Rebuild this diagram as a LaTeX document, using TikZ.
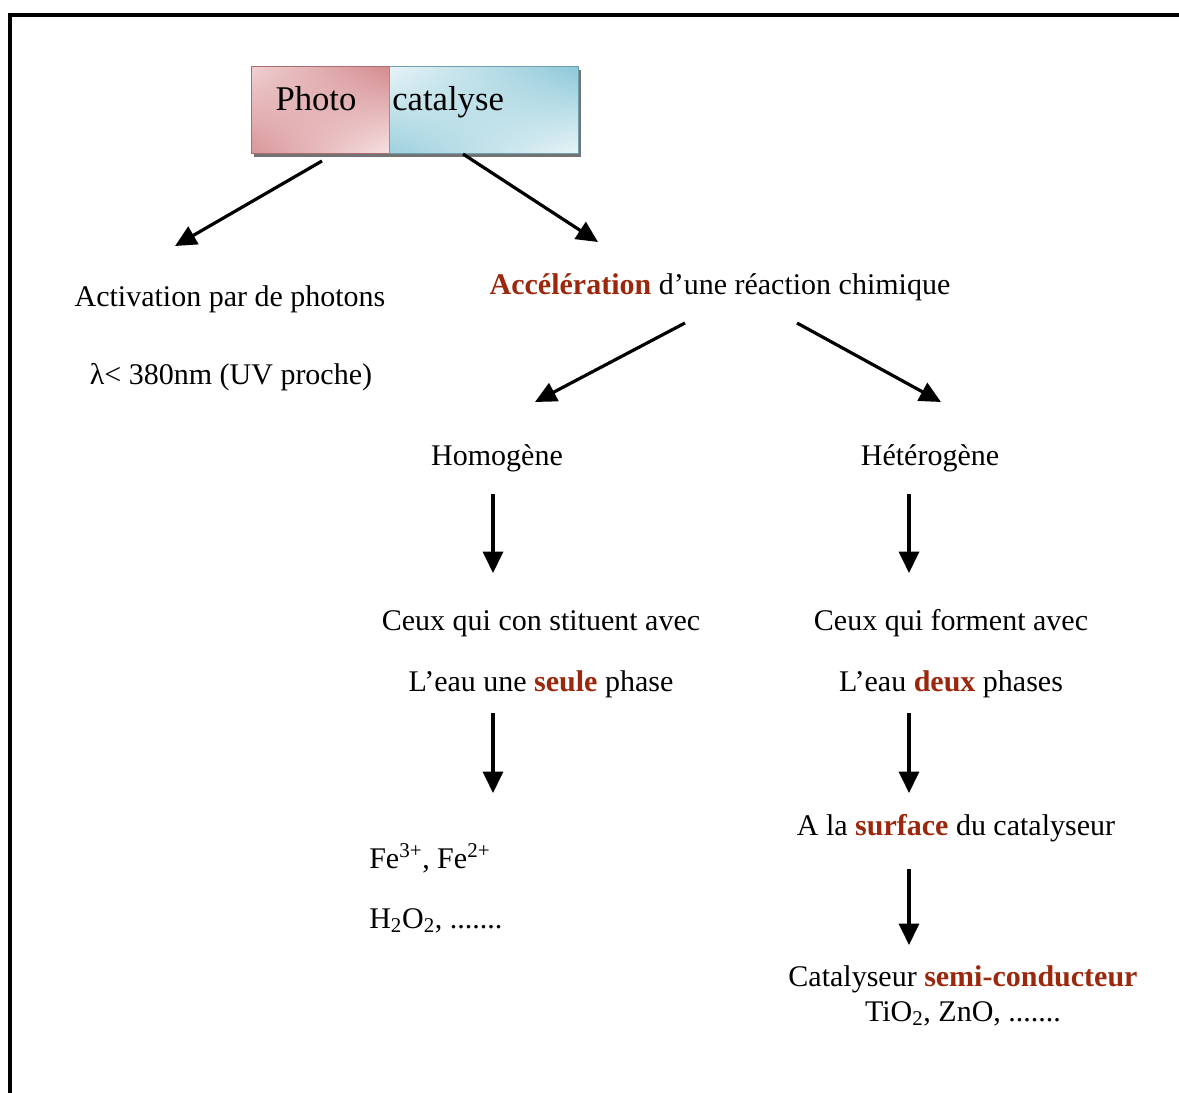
\documentclass[tikz,border=0pt]{standalone}
\usepackage{fontspec}
\setmainfont{Liberation Serif}
\usetikzlibrary{arrows.meta,shadings}
\definecolor{dred}{RGB}{155,40,12}
\definecolor{pinkdark}{RGB}{212,138,142}
\definecolor{pinklight}{RGB}{246,226,227}
\definecolor{bluedark}{RGB}{140,200,216}
\definecolor{bluelight}{RGB}{232,244,247}
\newcommand{\redbf}[1]{\textcolor{dred}{\textbf{#1}}}
\tikzset{
  lbl/.style={anchor=base, inner sep=0pt, font=\fontsize{22.5}{27}\selectfont},
  big/.style={anchor=base, inner sep=0pt, font=\fontsize{26}{31}\selectfont},
  arr/.style={line width=2.4pt, -{Triangle[length=16pt,width=15pt]}},
  frame/.style={line width=2.4pt},
}
\begin{document}
\begin{tikzpicture}[x=0.75pt,y=-0.75pt]
\useasboundingbox (0,0) rectangle (1179,1093);
% frame
\draw[frame] (10,1110) -- (10,15) -- (1200,15);
% title box
\fill[black!55] (254,70) rectangle (581,157);
\shade[upper left=pinklight!80!pinkdark, upper right=pinkdark, lower left=pinkdark!90, lower right=pinklight] (251,66) rectangle (389,153);
\shade[upper left=bluelight, upper right=bluedark, lower left=bluedark!85, lower right=bluelight] (389,66) rectangle (578,153);
\draw[pinkdark!80!black, line width=0.6pt] (251,66) rectangle (389,153);
\draw[bluedark!80!black, line width=0.6pt] (389,66) rectangle (578,153);
\node[big] (photo) at (316,110) {Photo};
\node[big, anchor=base west] (cata) at (392,110) {catalyse};
% texts
\node[lbl] (act) at (230,306) {Activation par de photons};
\node[lbl] (lam) at (231,384) {λ< 380nm (UV proche)};
\node[lbl] (acc) at (720,294) {\redbf{Accélération} d’une réaction chimique};
\node[lbl] (homo) at (497,465) {Homogène};
\node[lbl] (hetero) at (930,465) {Hétérogène};
\node[lbl] (c1) at (541,630) {Ceux qui con stituent avec};
\node[lbl] (c2) at (541,691) {L’eau une \redbf{seule} phase};
\node[lbl] (f1) at (951,630) {Ceux qui forment avec};
\node[lbl] (f2) at (951,691) {L’eau \redbf{deux} phases};
\node[lbl] (surf) at (956,835) {A la \redbf{surface} du catalyseur};
\node[lbl, anchor=base west] (fe) at (369,868) {Fe\textsuperscript{3+}, Fe\textsuperscript{2+}};
\node[lbl, anchor=base west] (h2o2) at (369,928) {H\textsubscript{2}O\textsubscript{2}, .......};
\node[lbl] (semi) at (963,986) {Catalyseur \redbf{semi-conducteur}};
\node[lbl] (tio2) at (963,1021) {TiO\textsubscript{2}, ZnO, .......};
% arrow end points
\coordinate (a1s) at (322,161); \coordinate (a1e) at (175,246);
\coordinate (a2s) at (463,154); \coordinate (a2e) at (598,242);
\coordinate (a3s) at (685,323); \coordinate (a3e) at (535,402);
\coordinate (a4s) at (797,323); \coordinate (a4e) at (941,402);
\coordinate (a5s) at (493,494); \coordinate (a5e) at (493,573);
\coordinate (a6s) at (909,494); \coordinate (a6e) at (909,573);
\coordinate (a7s) at (493,713); \coordinate (a7e) at (493,793);
\coordinate (a8s) at (909,713); \coordinate (a8e) at (909,793);
\coordinate (a9s) at (909,869); \coordinate (a9e) at (909,945);
\draw[arr] (a1s) -- (a1e);
\draw[arr] (a2s) -- (a2e);
\draw[arr] (a3s) -- (a3e);
\draw[arr] (a4s) -- (a4e);
\draw[arr] (a5s) -- (a5e);
\draw[arr] (a6s) -- (a6e);
\draw[arr] (a7s) -- (a7e);
\draw[arr] (a8s) -- (a8e);
\draw[arr] (a9s) -- (a9e);
\end{tikzpicture}
\end{document}
